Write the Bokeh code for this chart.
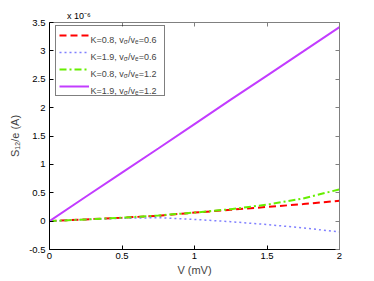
from bokeh.plotting import figure
from bokeh.models import (LinearAxis, FixedTicker, Range1d, Label, Legend, LegendItem, Title)
from bokeh.embed import file_html
from bokeh.resources import INLINE

# ---- data (values of S12/e in units of 1e-6 A) ----
V = [0.0, 0.25, 0.5, 0.75, 1.0, 1.25, 1.5, 1.75, 2.0]
s_red = [0.0, 0.03, 0.06, 0.095, 0.15, 0.20, 0.25, 0.30, 0.36]
s_blue = [0.0, 0.03, 0.05, 0.06, 0.03, -0.01, -0.06, -0.12, -0.19]
s_green = [0.0, 0.03, 0.06, 0.10, 0.15, 0.21, 0.29, 0.40, 0.56]
s_purple = [0.0, 0.43, 0.855, 1.28, 1.71, 2.14, 2.565, 2.99, 3.42]

K_vals = ["0.8", "1.9", "0.8", "1.9"]
ratio_vals = ["0.6", "0.6", "1.2", "1.2"]

x_ticks = [0, 0.5, 1, 1.5, 2]
x_tick_labels = ["0", "0.5", "1", "1.5", "2"]
y_ticks = [-0.5, 0, 0.5, 1, 1.5, 2, 2.5, 3, 3.5]
y_tick_labels = ["-0.5", "0", "0.5", "1", "1.5", "2", "2.5", "3", "3.5"]

FONT = "Liberation Sans"

p = figure(frame_width=290, frame_height=227, output_backend="svg",
           toolbar_location=None, x_range=Range1d(0, 2), y_range=Range1d(-0.5, 3.5),
           x_axis_location=None, y_axis_location=None,
           min_border_left=49, min_border_top=22, min_border_right=16, min_border_bottom=10)
p.grid.visible = False
p.outline_line_color = None

# exponent of the y axis, as a left-aligned title above the frame
p.title = Title(text="x 10\u207b\u2076", align="left", offset=17.5, standoff=3,
                text_font=FONT, text_font_size="9px", text_font_style="normal",
                text_color="black")

def style_axis(ax, ticks, labels, color, show_labels):
    ax.ticker = FixedTicker(ticks=ticks)
    ax.major_tick_in = 4
    ax.major_tick_out = 0
    ax.minor_tick_line_color = None
    ax.axis_line_color = color
    ax.major_tick_line_color = color
    ax.axis_line_width = 1
    if show_labels:
        ax.major_label_overrides = {t: l for t, l in zip(ticks, labels)}
        ax.major_label_text_font = FONT
        ax.major_label_text_color = "black"
        ax.major_label_text_font_size = "9.5px"
        ax.major_label_standoff = 4
    else:
        ax.major_label_text_color = None
        ax.major_label_text_font_size = "0px"
        ax.major_label_standoff = 0

bottom = LinearAxis()
style_axis(bottom, x_ticks, x_tick_labels, "black", True)
bottom.axis_label = "V (mV)"
bottom.axis_label_text_font = FONT
bottom.axis_label_text_font_size = "11px"
bottom.axis_label_text_font_style = "normal"
bottom.axis_label_standoff = 2
bottom.major_label_standoff = 3
p.add_layout(bottom, "below")

left = LinearAxis()
style_axis(left, y_ticks, y_tick_labels, "black", True)
left.axis_label = "S\u2081\u2082/e (A)"
left.axis_label_text_font = FONT
left.axis_label_text_font_size = "11px"
left.axis_label_text_font_style = "normal"
left.axis_label_standoff = 5
p.add_layout(left, "left")

top = LinearAxis()
style_axis(top, x_ticks, x_tick_labels, "#808080", False)
p.add_layout(top, "above")

right = LinearAxis()
style_axis(right, y_ticks, y_tick_labels, "#808080", False)
p.add_layout(right, "right")

r1 = p.line(V, s_red, line_color="#ff0000", line_width=2, line_dash="7 4")
r2 = p.line(V, s_blue, line_color="#8080ff", line_width=1.5, line_dash="2 3")
r3 = p.line(V, s_green, line_color="#66ee00", line_width=2, line_dash="7 3 2 3")
r4 = p.line(V, s_purple, line_color="#c23cff", line_width=2)

def add_text(px, py, txt, size):
    # px, py: pixel offsets from the frame's bottom-left corner
    p.add_layout(Label(x=px, y=py, x_units="screen", y_units="screen", text=txt,
                       text_font=FONT, text_font_size=size,
                       text_baseline="alphabetic", text_align="left"))

# legend texts with subscripts
for i, (k, r) in enumerate(zip(K_vals, ratio_vals)):
    base = 210 - 17 * i
    x0 = 41
    add_text(x0, base, "K=%s, v" % k, "9px")
    add_text(x0 + 33.3, base - 2, "\u03c3", "6.5px")
    add_text(x0 + 37.5, base, "/v", "9px")
    add_text(x0 + 44.5, base - 2, "e", "6.5px")
    add_text(x0 + 48.2, base, "=%s" % r, "9px")

# legend box and samples (transparent background so the texts stay visible)
legend = Legend(items=[LegendItem(label=" ", renderers=[r]) for r in (r1, r2, r3, r4)],
                location=(6, 153), padding=3, spacing=5,
                glyph_height=12, glyph_width=30, label_height=12, label_width=70,
                label_standoff=2, margin=0, label_text_font_size="9px",
                border_line_color="black", border_line_width=1,
                background_fill_alpha=0)
p.add_layout(legend, "center")

open("out.html", "w").write(file_html(p, INLINE))
